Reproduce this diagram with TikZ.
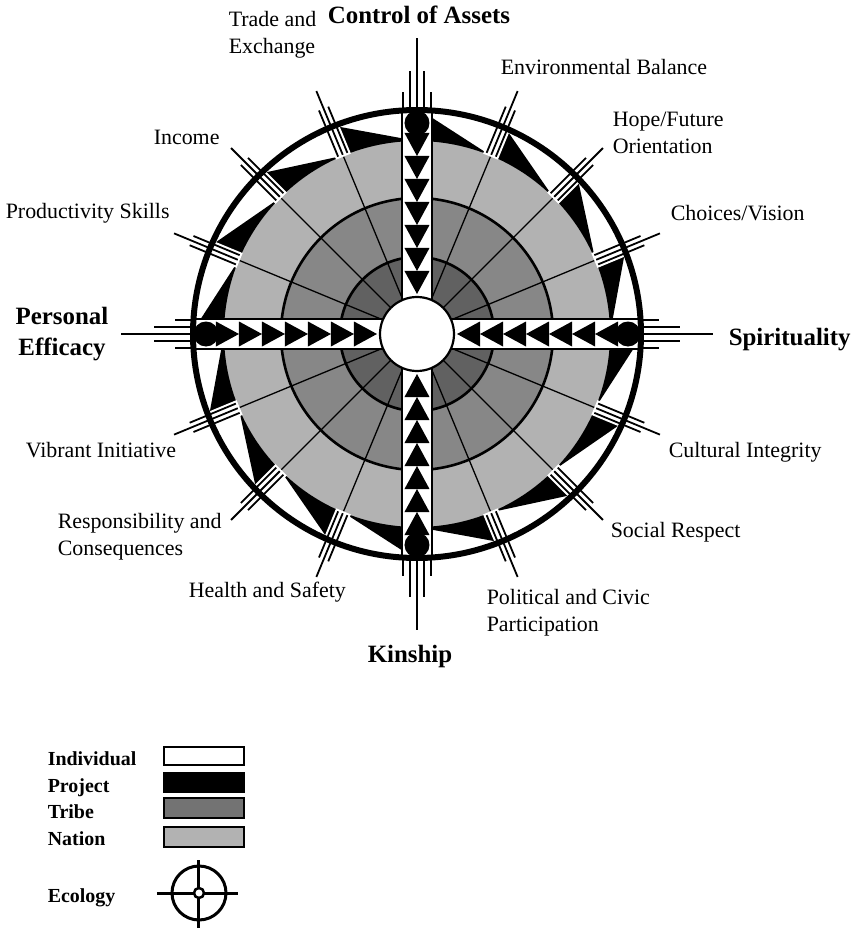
\documentclass[tikz,border=0pt]{standalone}
\usepackage{fontspec}
\setmainfont{Liberation Serif}

\definecolor{nation}{gray}{0.70}
\definecolor{tribe}{gray}{0.53}
\definecolor{inner}{gray}{0.38}
\definecolor{keytribe}{gray}{0.45}

\tikzset{every path/.style={line width=1.6bp}}
\tikzset{
  ringline/.style={line width=2.6bp},
  spokeline/.style={line width=1.8bp},
  barbox/.style={fill=white, draw, line width=2.2bp},
  lbl/.style={font=\fontsize{22}{27}\selectfont, align=left, anchor=west, inner sep=0pt},
  axislbl/.style={font=\bfseries\fontsize{25}{32}\selectfont, align=center, inner sep=0pt},
  keylbl/.style={font=\bfseries\fontsize{20}{24}\selectfont, anchor=base west, inner sep=0pt},
  keybox/.style={draw, line width=2bp},
}

\begin{document}
\begin{tikzpicture}[x=1bp,y=1bp]
\useasboundingbox (-417,-595) rectangle (443,334);

% rings
\fill[nation] (0,0) circle[radius=194];
\fill[tribe] (0,0) circle[radius=136];
\fill[inner] (0,0) circle[radius=77];
\foreach \a in {22.5,45,67.5,112.5,135,157.5,202.5,225,247.5,292.5,315,337.5}
  \draw[line width=1.3bp] (\a:37) -- (\a:194);
\draw[ringline] (0,0) circle[radius=77];
\draw[ringline] (0,0) circle[radius=136];

% black wedges
\foreach \a in {0,22.5,...,337.5}
  \fill (\a:226) -- (\a:193) arc[start angle=\a, end angle=\a-22.5, radius=193] -- cycle;

% label spokes
\foreach \a in {22.5,45,67.5,112.5,135,157.5,202.5,225,247.5,292.5,315,337.5}{
  \begin{scope}[rotate=\a]
    \fill[white] (192,-8) rectangle (226,8);
    \draw[spokeline] (194,0) -- (263,0) (194,5) -- (244,5) (194,-5) -- (244,-5);
  \end{scope}
}

% bars
\foreach \r in {0,90,180,270}{
  \begin{scope}[rotate=\r]
    \draw[barbox] (30,-15) rectangle (223,15);
    \foreach \i in {0,...,6}
      \fill ({40+23*\i},0) -- ({63+23*\i},12.5) -- ({63+23*\i},-12.5) -- cycle;
    \fill (211,0) circle[radius=12.5];
    \draw[spokeline] (224,0) -- (296,0);
    \draw[spokeline] (224,7) -- (263,7) (224,-7) -- (263,-7);
    \draw[spokeline] (224,14) -- (242,14) (224,-14) -- (242,-14);
  \end{scope}
}

\draw[line width=6bp] (0,0) circle[radius=224];
\draw[barbox] (0,0) circle[radius=37];

% labels
\node[axislbl] (assets) at (2,319) {Control of Assets};
\node[axislbl] (kinship) at (-7,-323) {Kinship};
\node[axislbl] (efficacy) at (-355,0) {Personal\\Efficacy};
\node[axislbl, anchor=west] (spirit) at (311,-6) {Spirituality};

\node[lbl] (trade) at (-189,299) {Trade and\\Exchange};
\node[lbl] (environ) at (83,267) {Environmental Balance};
\node[lbl] (income) at (-264,197) {Income};
\node[lbl] (hope) at (195,201) {Hope/Future\\Orientation};
\node[lbl] (skills) at (-412,121) {Productivity Skills};
\node[lbl] (choices) at (253,121) {Choices/Vision};
\node[lbl] (vibrant) at (-392,-116) {Vibrant Initiative};
\node[lbl] (cultural) at (251,-118) {Cultural Integrity};
\node[lbl] (respons) at (-360,-203) {Responsibility and\\Consequences};
\node[lbl] (respect) at (193,-198) {Social Respect};
\node[lbl] (health) at (-229,-258) {Health and Safety};
\node[lbl] (political) at (69,-279) {Political and Civic\\Participation};

% key
\node[keylbl] (individual) at (-370,-431) {Individual};
\node[keylbl] (project) at (-370,-458) {Project};
\node[keylbl] (tribe) at (-370,-484) {Tribe};
\node[keylbl] (nation) at (-370,-511) {Nation};
\node[keylbl] (ecology) at (-370,-568) {Ecology};
\draw[keybox, fill=white] (-253,-413) rectangle (-173,-431);
\draw[keybox, fill=black] (-253,-439) rectangle (-173,-458);
\draw[keybox, fill=keytribe] (-253,-464) rectangle (-173,-484);
\draw[keybox, fill=nation] (-253,-493) rectangle (-173,-513);
\draw[line width=3bp] (-218,-559) circle[radius=27];
\draw[line width=3bp] (-260,-559) -- (-179,-559) (-218,-526) -- (-218,-594);
\filldraw[fill=white, line width=2.5bp] (-218,-559) circle[radius=5];
\end{tikzpicture}
\end{document}
